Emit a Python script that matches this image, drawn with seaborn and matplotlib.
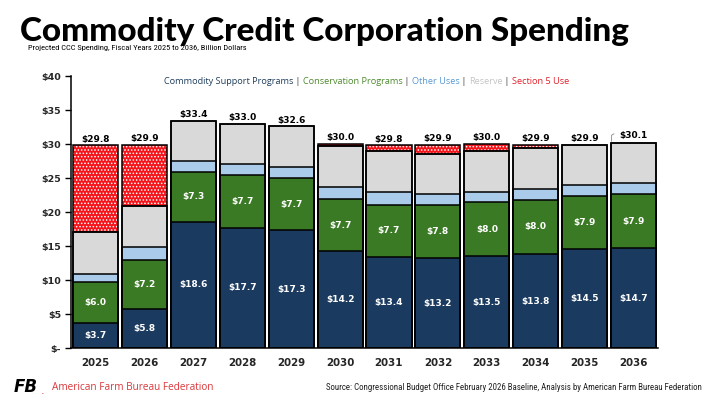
import matplotlib
matplotlib.use("Agg")
import matplotlib.pyplot as plt
from matplotlib import font_manager
import seaborn as sns
import numpy as np
import pandas as pd

years = ["2025", "2026", "2027", "2028", "2029", "2030", "2031", "2032", "2033", "2034", "2035", "2036"]
commodity = [3.7, 5.8, 18.6, 17.7, 17.3, 14.2, 13.4, 13.2, 13.5, 13.8, 14.5, 14.7]
conservation = [6.0, 7.2, 7.3, 7.7, 7.7, 7.7, 7.7, 7.8, 8.0, 8.0, 7.9, 7.9]
other_uses = [1.2, 1.9, 1.6, 1.65, 1.6, 1.8, 1.85, 1.6, 1.45, 1.6, 1.6, 1.6]
reserve = [6.1, 6.0, 5.9, 5.95, 6.0, 6.0, 6.0, 6.0, 6.0, 6.0, 5.9, 5.9]
section5 = [12.8, 9.0, 0.0, 0.0, 0.0, 0.3, 0.85, 1.3, 1.05, 0.5, 0.0, 0.0]
total_labels = [29.8, 29.9, 33.4, 33.0, 32.6, 30.0, 29.8, 29.9, 30.0, 29.9, 29.9, 30.1]
ytick_vals = [0, 5, 10, 15, 20, 25, 30, 35, 40]
ytick_labels = ["$-", "$5", "$10", "$15", "$20", "$25", "$30", "$35", "$40"]

C_COMM = "#1b3a5f"
C_CONS = "#3b7a24"
C_OTHER = "#abcbea"
C_RES = "#d9d9d9"
C_S5 = "#f5141a"

sns.set_theme(style="white")
plt.rcParams["font.family"] = ["DejaVu Sans"]
plt.rcParams["hatch.linewidth"] = 0.7

available = {f.name for f in font_manager.fontManager.ttflist}
def pick(*names):
    for n in names:
        if n in available:
            return n
    return "DejaVu Sans"

NARROW = pick("Liberation Sans Narrow", "Roboto Condensed", "DejaVu Sans Condensed", "Liberation Sans")
TITLE_FONT = pick("Lato", "Roboto", "DejaVu Sans")

df = pd.DataFrame({"year": years, "commodity": commodity, "conservation": conservation,
                   "other": other_uses, "reserve": reserve, "section5": section5})
df["c1"] = df["commodity"]
df["c2"] = df["c1"] + df["conservation"]
df["c3"] = df["c2"] + df["other"]
df["c4"] = df["c3"] + df["reserve"]
df["c5"] = df["c4"] + df["section5"]

fig = plt.figure(figsize=(7.2, 4.05), dpi=100)
ax = fig.add_axes([0.0986, 0.1407, 0.8154, 0.6716])
W = 0.92

sns.barplot(data=df, x="year", y="c5", color=C_S5, edgecolor="white", linewidth=0,
            hatch=".....", width=W, errorbar=None, ax=ax, saturation=1)
for col, c in [("c4", C_RES), ("c3", C_OTHER), ("c2", C_CONS), ("c1", C_COMM)]:
    sns.barplot(data=df, x="year", y=col, color=c, edgecolor="black", linewidth=1.1,
                width=W, errorbar=None, ax=ax, saturation=1)
sns.barplot(data=df, x="year", y="c5", color="black", fill=False, linewidth=1.1,
            width=W, errorbar=None, ax=ax)
for i in range(len(years)):
    if section5[i] > 0:
        ax.plot([i - W / 2, i + W / 2], [df["c4"][i]] * 2, color="black", lw=1.1)

ax.set_xlim(-0.5, len(years) - 0.5)
ax.set_ylim(0, 40)
ax.set_yticks(ytick_vals)
ax.set_yticklabels(ytick_labels, fontsize=6.8, fontweight="bold")
ax.set_xticks(range(len(years)))
ax.set_xticklabels(years, fontsize=7.4, fontweight="bold")
ax.set_xticks(np.arange(-0.5, len(years)), minor=True)
ax.tick_params(axis="x", which="major", length=0, pad=7)
ax.tick_params(axis="x", which="minor", length=4, width=1, color="black", direction="out")
ax.tick_params(axis="y", which="major", length=4, width=1, color="black", direction="out", pad=3, left=True)
ax.set_xlabel("")
ax.set_ylabel("")
for s in ["top", "right"]:
    ax.spines[s].set_visible(False)
for s in ["left", "bottom"]:
    ax.spines[s].set_color("black")
    ax.spines[s].set_linewidth(1.1)
ax.grid(False)

for i in range(len(years)):
    ax.text(i, commodity[i] / 2, f"${commodity[i]:.1f}", ha="center", va="center",
            color="white", fontsize=6.5, fontweight="bold")
    ax.text(i, commodity[i] + conservation[i] / 2, f"${conservation[i]:.1f}", ha="center",
            va="center", color="white", fontsize=6.5, fontweight="bold")
    yoff = 0.25 if i != len(years) - 1 else 0.55
    ax.text(i, total_labels[i] + yoff, f"${total_labels[i]:.1f}", ha="center", va="bottom",
            color="black", fontsize=6.5, fontweight="bold")
n = len(years) - 1
ax.plot([n - 0.45, n - 0.45, n - 0.4], [df["c5"][n] + 0.3, df["c5"][n] + 1.2, df["c5"][n] + 1.4],
        color="#888888", lw=0.6)

renderer = fig.canvas.get_renderer()

def fit_text(x_px, y_px, s, width_px, **kw):
    t = fig.text(x_px / 720, 1 - y_px / 405, s, fontsize=10, **kw)
    w = t.get_window_extent(renderer).width
    t.set_fontsize(10 * width_px / w)
    return t

fit_text(20, 31, "Commodity Credit Corporation Spending", 608, fontweight="black",
         family=TITLE_FONT, va="center", ha="left", color="black")
fit_text(28, 48, "Projected CCC Spending, Fiscal Years 2025 to 2036, Billion Dollars", 217,
         family=NARROW, va="center", ha="left", color="black")

pieces = [("Commodity Support Programs", "#1f3e5c"), (" | ", "#333333"),
          ("Conservation Programs", "#4e8a2e"), (" | ", "#333333"),
          ("Other Uses", "#5a9ad4"), (" | ", "#333333"),
          ("Reserve", "#c4c4c4"), (" | ", "#333333"),
          ("Section 5 Use", "#e3202a")]
fs = 10
widths = []
for s, c in pieces:
    t = fig.text(0, 0, s, fontsize=fs, family="Open Sans")
    widths.append(t.get_window_extent(renderer).width)
    t.remove()
scale = 405 / sum(widths)
fs2 = fs * scale
x = 164
for (s, c), w in zip(pieces, widths):
    fig.text(x / 720, 1 - 81 / 405, s, fontsize=fs2, color=c, family="Open Sans",
             va="center", ha="left")
    x += w * scale

fig.text(14 / 720, 1 - 387 / 405, "FB", fontsize=12, fontweight="heavy", style="italic",
         color="black", va="center", ha="left")
fig.text(41 / 720, 1 - 391 / 405, ".", fontsize=8, color="#d9373a", va="center", ha="left")
fit_text(52, 388, "American Farm Bureau Federation", 160, color="#d9373a", va="center",
         ha="left", family="Open Sans")
fit_text(326, 387, "Source: Congressional Budget Office February 2026 Baseline, Analysis by American Farm Bureau Federation",
         374, family=NARROW, color="#222222", va="center", ha="left")

fig.savefig("out.png", dpi=100)
